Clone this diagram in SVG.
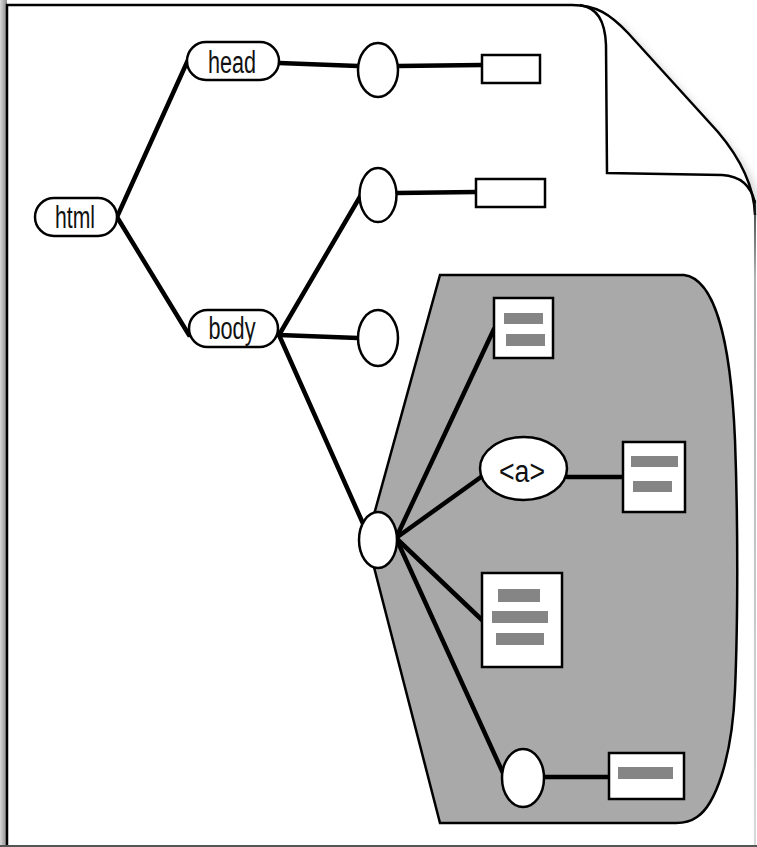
<svg xmlns="http://www.w3.org/2000/svg" width="757" height="847" viewBox="0 0 757 847">
<defs>
<linearGradient id="lshadow" x1="0" y1="0" x2="1" y2="0">
<stop offset="0" stop-color="#d8d8d8"/>
<stop offset="1" stop-color="#8a8a8a"/>
</linearGradient>
<linearGradient id="redge" gradientUnits="userSpaceOnUse" x1="0" y1="200" x2="0" y2="846">
<stop offset="0" stop-color="#000"/>
<stop offset="0.12" stop-color="#999"/>
<stop offset="1" stop-color="#ccc"/>
</linearGradient>
<filter id="blur" x="-20%" y="-20%" width="140%" height="140%">
<feGaussianBlur stdDeviation="4"/>
</filter>
</defs>
<style>
.edge{stroke:#000;stroke-width:4.5;fill:none;stroke-linecap:round}
.pill{fill:#fff;stroke:#000;stroke-width:2.5}
.node{fill:#fff;stroke:#000;stroke-width:2.5}
.doc{fill:#fff;stroke:#000;stroke-width:2.5}
.bar{fill:#858585}
.lbl{font-family:"Liberation Sans",Arial,Helvetica,sans-serif;font-size:31px;fill:#111}
</style>
<rect x="0" y="0" width="757" height="847" fill="#fff"/>
<rect x="0" y="0" width="7" height="847" fill="url(#lshadow)"/>
<g id="page">
<path d="M612,22 C640,52 690,108 722,145 C742,168 752,190 754,215" fill="none" stroke="#bbb" stroke-width="5" filter="url(#blur)" transform="translate(4,2)"/>
<path d="M7,846 V5 H572 C596,5 610,14 628,33 L718,132 C740,158 754,185 755,215 V846 Z" fill="#fff" stroke="none"/>
<path d="M7,846 V5 H572 C596,5 610,14 628,33 L718,132 C740,158 754,185 755,215" fill="none" stroke="#000" stroke-width="2.5"/>
<path d="M755,200 V846" fill="none" stroke="url(#redge)" stroke-width="1.5"/>
<path d="M580,5 C597,8 605,20 606,45 L607,173 L722,175 C740,176 751,185 755,203" fill="none" stroke="#000" stroke-width="2.5"/>
<line x1="0" y1="846" x2="757" y2="846" stroke="#555" stroke-width="2"/>
</g>
<g id="region">
<path d="M440,275 L684,275 C716,279 731,345 735,440 C738,520 738,620 735,690 C732,760 715,805 697,817 C690,822 684,823 676,823 L440,823 L367,540 Z" fill="#a9a9a9" stroke="#000" stroke-width="2.5"/>
</g>
<g id="connectors">
<line class="edge" x1="117" y1="217" x2="188" y2="60"/>
<line class="edge" x1="117" y1="217" x2="189" y2="335"/>
<line class="edge" x1="279" y1="63" x2="358" y2="66"/>
<line class="edge" x1="398" y1="66" x2="482" y2="65"/>
<line class="edge" x1="279" y1="335" x2="361" y2="195"/>
<line class="edge" x1="279" y1="335" x2="358" y2="338"/>
<line class="edge" x1="279" y1="335" x2="365" y2="528"/>
<line class="edge" x1="397" y1="193" x2="476" y2="192"/>
<line class="edge" x1="396" y1="538" x2="494" y2="329"/>
<line class="edge" x1="396" y1="538" x2="481" y2="477"/>
<line class="edge" x1="396" y1="538" x2="482" y2="620"/>
<line class="edge" x1="396" y1="538" x2="503" y2="773"/>
<line class="edge" x1="567" y1="477" x2="623" y2="477"/>
<line class="edge" x1="544" y1="777" x2="609" y2="777"/>
</g>
<g id="html">
<rect class="pill" x="35" y="198" width="82" height="38" rx="19"/>
<text class="lbl" x="75" y="228" text-anchor="middle" textLength="40" lengthAdjust="spacingAndGlyphs">html</text>
</g>
<g id="head">
<rect class="pill" x="187" y="42" width="92" height="38" rx="19"/>
<text class="lbl" x="232" y="73" text-anchor="middle" textLength="48" lengthAdjust="spacingAndGlyphs">head</text>
</g>
<g id="body">
<rect class="pill" x="189" y="310" width="89" height="37" rx="18.5"/>
<text class="lbl" x="232" y="339" text-anchor="middle" textLength="47" lengthAdjust="spacingAndGlyphs">body</text>
</g>
<g id="head-child">
<ellipse class="node" cx="378" cy="70" rx="20" ry="27"/>
</g>
<g id="head-text">
<rect class="doc" x="482" y="55" width="58" height="28"/>
</g>
<g id="body-child1">
<ellipse class="node" cx="378" cy="195" rx="18.5" ry="27"/>
</g>
<g id="body-child1-text">
<rect class="doc" x="476" y="179" width="69" height="28"/>
</g>
<g id="body-child2">
<ellipse class="node" cx="378" cy="338" rx="20" ry="28"/>
</g>
<g id="body-child3">
<ellipse class="node" cx="378" cy="540" rx="19" ry="28"/>
</g>
<g id="doc1">
<rect class="doc" x="494" y="298" width="59" height="60"/>
<rect class="bar" x="504" y="313" width="39" height="11"/>
<rect class="bar" x="506" y="334" width="39" height="12"/>
</g>
<g id="anchor">
<ellipse class="node" cx="523.5" cy="468.5" rx="43.5" ry="31.5"/>
<text class="lbl" x="522" y="482" text-anchor="middle" textLength="46" lengthAdjust="spacingAndGlyphs">&lt;a&gt;</text>
</g>
<g id="doc2">
<rect class="doc" x="623" y="442" width="62" height="70"/>
<rect class="bar" x="631" y="456" width="47" height="11"/>
<rect class="bar" x="633" y="481" width="39" height="11"/>
</g>
<g id="doc3">
<rect class="doc" x="482" y="573" width="80" height="94"/>
<rect class="bar" x="498" y="589" width="42" height="13"/>
<rect class="bar" x="492" y="611" width="56" height="12"/>
<rect class="bar" x="496" y="633" width="48" height="12"/>
</g>
<g id="bottom-node">
<ellipse class="node" cx="523" cy="778" rx="21" ry="29"/>
</g>
<g id="doc4">
<rect class="doc" x="609" y="753" width="75" height="46"/>
<rect class="bar" x="618" y="767" width="55" height="12"/>
</g>
</svg>
